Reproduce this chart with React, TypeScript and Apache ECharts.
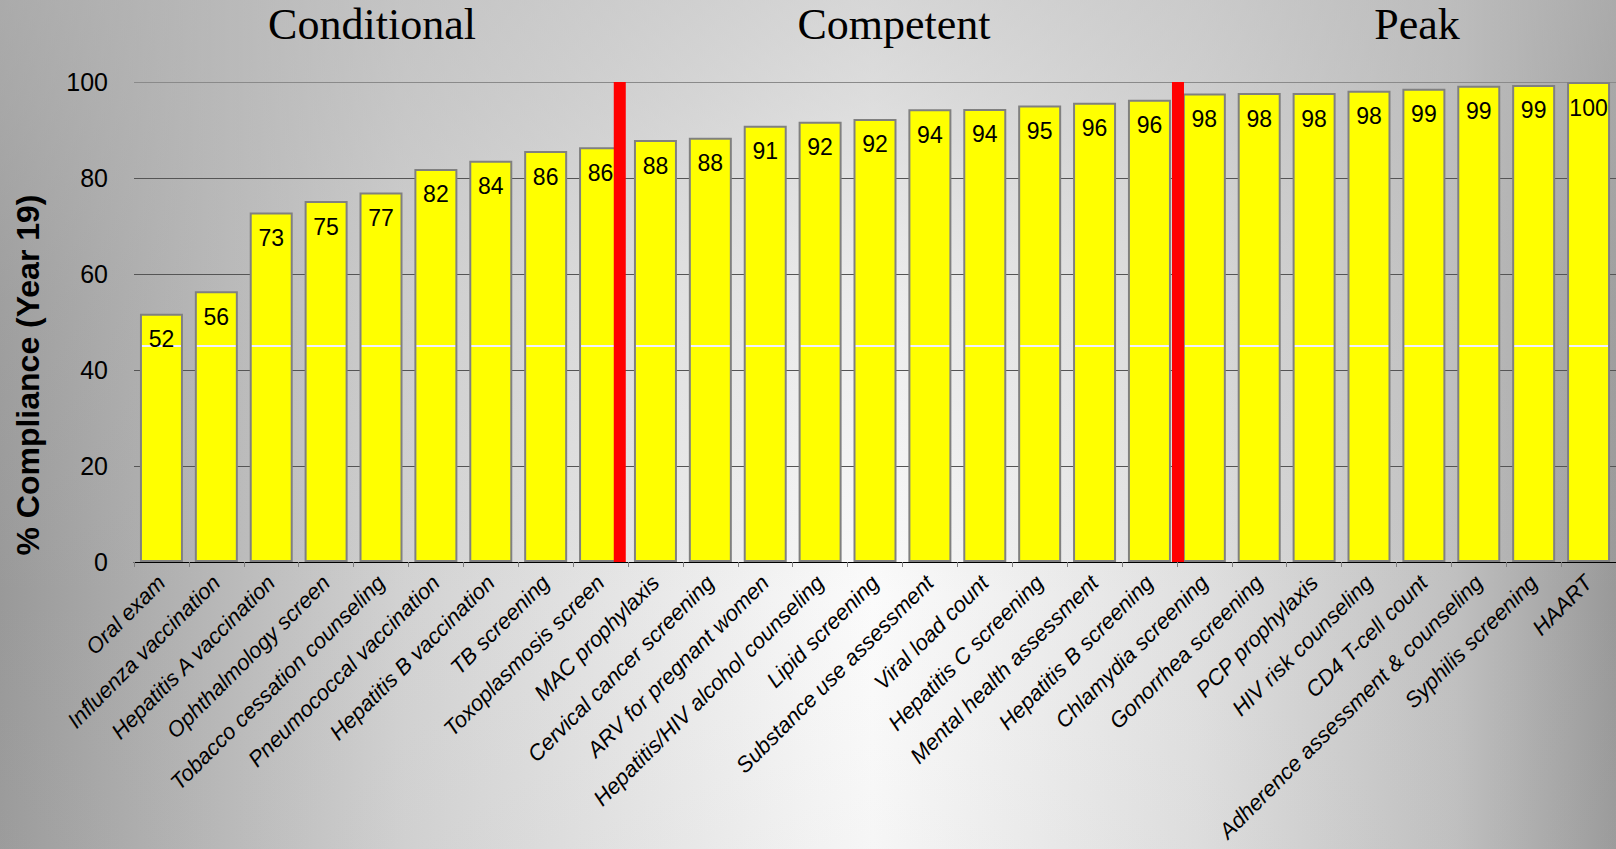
import React, { useEffect, useRef } from "react";
import * as echarts from "echarts";

const categories = [
  "Oral exam",
  "Influenza vaccination",
  "Hepatitis A vaccination",
  "Ophthalmology screen",
  "Tobacco cessation counseling",
  "Pneumococcal vaccination",
  "Hepatitis B vaccination",
  "TB screening",
  "Toxoplasmosis screen",
  "MAC prophylaxis",
  "Cervical cancer screening",
  "ARV for pregnant women",
  "Hepatitis/HIV alcohol counseling",
  "Lipid screening",
  "Substance use assessment",
  "Viral load count",
  "Hepatitis C screening",
  "Mental health assessment",
  "Hepatitis B screening",
  "Chlamydia screening",
  "Gonorrhea screening",
  "PCP prophylaxis",
  "HIV risk counseling",
  "CD4 T-cell count",
  "Adherence assessment & counseling",
  "Syphilis screening",
  "HAART",
];

const compliance = [
  51.7, 56.4, 72.8, 75.2, 77.0, 81.9, 83.6, 85.6, 86.4, 87.9, 88.4, 90.9, 91.7,
  92.3, 94.3, 94.4, 95.1, 95.7, 96.3, 97.6, 97.7, 97.7, 98.2, 98.6, 99.2, 99.4,
  100,
];

const yTickValues = [0, 20, 40, 60, 80, 100];

const tierNames = ["Conditional", "Competent", "Peak"];
const tierNameX = [372, 894, 1417];
// tier boundaries, in category units along the x axis
const tierBoundaries = [8.85, 19.02];

const yAxisTitle = "% Compliance (Year 19)";

const W = 1616;
const H = 849;

export default function App() {
  const ref = useRef<HTMLDivElement>(null);

  useEffect(() => {
    document.body.style.margin = "0";
    const chart = echarts.init(ref.current!, null, { renderer: "svg" });

    const stripeTop = 345.5 / H;
    const stripeBottom = 347 / H;
    const barFill = {
      type: "linear",
      x: 0,
      y: 0,
      x2: 0,
      y2: H,
      global: true,
      colorStops: [
        { offset: 0, color: "#ffff00" },
        { offset: stripeTop, color: "#ffff00" },
        { offset: stripeTop, color: "#f0f0ff" },
        { offset: stripeBottom, color: "#f0f0ff" },
        { offset: stripeBottom, color: "#ffff00" },
        { offset: 1, color: "#ffff00" },
      ],
    };

    const sans = '"Liberation Sans", Arial, sans-serif';
    const serif = '"Liberation Serif", "Times New Roman", serif';

    const option: any = {
      animation: false,
      backgroundColor: {
        type: "linear",
        x: 0,
        y: 0,
        x2: 1,
        y2: 0,
        colorStops: [
          { offset: 0, color: "#999999" },
          { offset: 0.25, color: "#d2d2d2" },
          { offset: 0.5, color: "#f6f6f6" },
          { offset: 0.54, color: "#fbfbfb" },
          { offset: 0.74, color: "#e0e0e0" },
          { offset: 0.9, color: "#c0c0c0" },
          { offset: 1, color: "#999999" },
        ],
      },
      grid: { left: 134, top: 82, width: 1486, height: 480, containLabel: false },
      xAxis: [
        {
          type: "category",
          data: categories,
          boundaryGap: true,
          axisLine: { show: true, lineStyle: { color: "#000", width: 1 } },
          axisTick: { show: true, length: 5, lineStyle: { color: "#808080", width: 1 } },
          axisLabel: {
            rotate: 45,
            interval: 0,
            fontSize: 22,
            fontStyle: "italic",
            fontFamily: sans,
            color: "#000",
            margin: 17,
          },
          splitLine: { show: false },
        },
        { type: "value", min: 0, max: categories.length, show: false },
      ],
      yAxis: {
        type: "value",
        min: yTickValues[0],
        max: yTickValues[yTickValues.length - 1],
        interval: 20,
        axisLine: { show: false },
        axisTick: { show: false },
        axisLabel: { fontSize: 25, color: "#000", margin: 26, fontFamily: sans },
        splitLine: {
          show: true,
          lineStyle: {
            color: ["#555", "#555", "#555", "#555", "#555", "#8a8a8a"],
            width: 1,
          },
        },
      },
      series: [
        {
          type: "bar",
          data: compliance,
          barWidth: 43,
          itemStyle: { color: barFill, borderColor: "#808080", borderWidth: 2 },
          label: {
            show: true,
            position: "insideTop",
            distance: 14,
            fontSize: 23,
            fontFamily: sans,
            color: "#000",
            formatter: (p: any) => String(Math.round(p.value)),
          },
          z: 2,
        },
        ...tierBoundaries.map((b) => ({
          type: "line",
          xAxisIndex: 1,
          yAxisIndex: 0,
          data: [
            [b, 0],
            [b, 100],
          ],
          symbol: "none",
          silent: true,
          lineStyle: { color: "#ff0000", width: 12, cap: "butt" },
          z: 4,
        })),
      ],
      graphic: {
        elements: [
          {
            type: "rect",
            silent: true,
            z: -10,
            shape: { x: 0, y: 0, width: W, height: H },
            style: {
              fill: {
                type: "linear",
                x: 0,
                y: 0,
                x2: 0,
                y2: 1,
                colorStops: [
                  { offset: 0, color: "rgba(185,185,185,0.55)" },
                  { offset: 0.12, color: "rgba(185,185,185,0.45)" },
                  { offset: 0.35, color: "rgba(185,185,185,0.2)" },
                  { offset: 0.7, color: "rgba(185,185,185,0)" },
                  { offset: 1, color: "rgba(185,185,185,0.08)" },
                ],
              },
            },
          },
          ...tierNames.map((t, i) => ({
            type: "text",
            x: tierNameX[i],
            y: 24,
            z: 10,
            style: {
              text: t,
              font: `44px ${serif}`,
              fill: "#000",
              align: "center",
              verticalAlign: "middle",
              textAlign: "center",
              textVerticalAlign: "middle",
            },
          })),
          {
            type: "text",
            x: 28,
            y: 375,
            rotation: Math.PI / 2,
            z: 10,
            style: {
              text: yAxisTitle,
              font: `bold 32px ${sans}`,
              fill: "#000",
              align: "center",
              verticalAlign: "middle",
              textAlign: "center",
              textVerticalAlign: "middle",
            },
          },
        ],
      },
    };

    chart.setOption(option);
    return () => chart.dispose();
  }, []);

  return (
    <div
      ref={ref}
      style={{ position: "fixed", left: 0, top: 0, width: W, height: H }}
    />
  );
}
